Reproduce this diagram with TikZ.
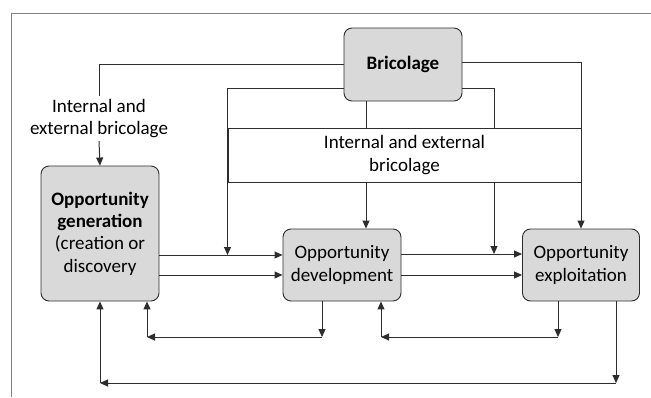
\documentclass[tikz,border=0pt]{standalone}
\usepackage{fontspec}
\setmainfont{Carlito}
\usetikzlibrary{arrows.meta}

\definecolor{boxgray}{RGB}{217,217,217}
\definecolor{linegray}{RGB}{45,45,45}

\tikzset{
  box/.style={draw=linegray,fill=boxgray,rounded corners=8pt,align=center,
    line width=0.9pt,inner sep=0pt},
  link/.style={draw=linegray,line width=1pt},
  arr/.style={link,-{Triangle[length=8pt,width=7pt]}}
}

\begin{document}
\begin{tikzpicture}[x=1pt,y=-1pt,font=\fontsize{19}{22.3}\selectfont]
      \useasboundingbox (0,0) rectangle (651,397);

      % Frame (top and left only)
      \draw[gray,line width=1pt] (11,397) -- (11,13) -- (651,13);

      % Boxes
      \node[box,minimum width=118pt,minimum height=73pt] (bric) at (403,64.5) {\textbf{Bricolage}};
      \node[box,minimum width=118pt,minimum height=135pt] (gen) at (100,233.5)
        {\textbf{Opportunity}\\\textbf{generation}\\(creation or\\discovery};
      \node[box,minimum width=118pt,minimum height=72pt] (dev) at (342,265) {Opportunity\\development};
      \node[box,minimum width=117pt,minimum height=72pt] (exp) at (581,265) {Opportunity\\exploitation};

      % Labels
      \node[align=center,inner sep=3pt] (lbl) at (99,118.5) {Internal and\\external bricolage};
      \node[link,align=center,minimum width=353pt,minimum height=54pt,inner sep=0pt] (band) at (404.5,155)
        {Internal and external\\bricolage};

      % Helper points
      \coordinate (d1) at ([yshift=10pt]dev.west);
      \coordinate (d2) at ([yshift=-10pt]dev.west);
      \coordinate (e1) at ([yshift=11pt]exp.west);
      \coordinate (e2) at ([yshift=-10pt]exp.west);
      \coordinate (b1) at ([xshift=-37pt]bric.south);
      \coordinate (b2) at ([xshift=91pt]bric.south);
      \coordinate (low1) at (0,337);
      \coordinate (low2) at (0,383);

      % Bricolage to the three phases
      \draw[link] (bric.west) -| (lbl.north);
      \draw[arr] (lbl.south) -- (gen.north);
      \draw[arr] ([yshift=-24pt]bric.west) -| (band.south west |- d1);
      \draw[link] (b1) -- (b1 |- band.north);
      \draw[arr] (b1 |- band.south) -- (b1 |- dev.north);
      \draw[link] ([yshift=-24pt]bric.east) -| (b2 |- band.north);
      \draw[arr] (b2 |- band.south) -- (b2 |- e1);
      \draw[arr] ([yshift=2pt]bric.east) -| (exp.north);

      % Forward links
      \draw[arr] (gen.east |- d1) -- (d1);
      \draw[arr] (gen.east |- d2) -- (d2);
      \draw[arr] (dev.east |- e1) -- (e1);
      \draw[arr] (dev.east |- e2) -- (e2);

      % Feedback: development to generation
      \coordinate (f1) at ([xshift=-20pt]dev.south);
      \coordinate (g1) at ([xshift=47pt]gen.south);
      \draw[arr] (f1) -- (f1 |- low1);
      \draw[arr] (f1 |- low1) -- (g1 |- low1);
      \draw[arr] (g1 |- low1) -- (g1);

      % Feedback: exploitation to development
      \coordinate (f2) at ([xshift=-23pt]exp.south);
      \coordinate (g2) at ([xshift=39pt]dev.south);
      \draw[arr] (f2) -- (f2 |- low1);
      \draw[arr] (f2 |- low1) -- (g2 |- low1);
      \draw[arr] (g2 |- low1) -- (g2);

      % Feedback: exploitation to generation
      \coordinate (f3) at ([xshift=35pt]exp.south);
      \draw[arr] (f3) -- (f3 |- low2);
      \draw[arr] (f3 |- low2) -- (gen.south |- low2);
      \draw[arr] (gen.south |- low2) -- (gen.south);

\end{tikzpicture}
\end{document}
